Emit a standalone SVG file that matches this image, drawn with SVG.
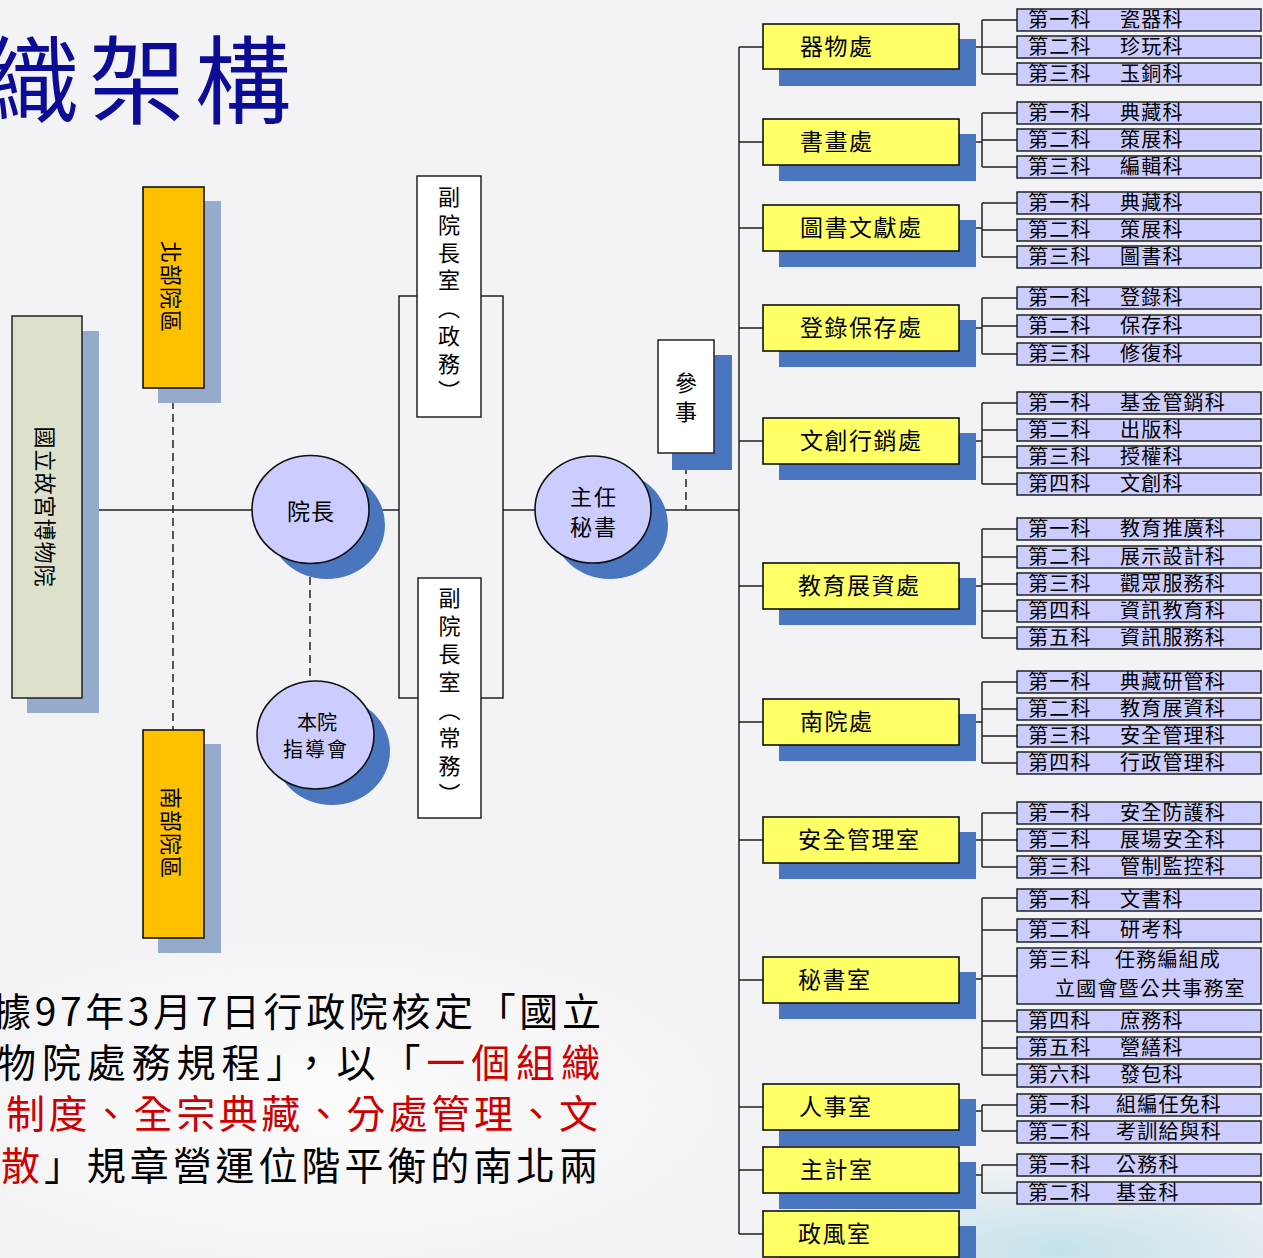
<svg xmlns="http://www.w3.org/2000/svg" width="1263" height="1258" viewBox="0 0 1263 1258">
<defs>
<style>
text{font-family:"Noto Sans CJK TC","Noto Sans CJK SC",sans-serif;fill:#000}
.ln{stroke:#222;stroke-width:1.5;fill:none}
.dash{stroke:#222;stroke-width:1.5;fill:none;stroke-dasharray:8 5}
.yb{fill:#ffff66;stroke:#111;stroke-width:1.6}
.bsh{fill:#4a76c0}
.gsh{fill:#95abcd}
.sb{fill:#ccccff;stroke:#222;stroke-width:1.5}
.wb{fill:#fff;stroke:#222;stroke-width:1.5}
.yt{font-size:23px;letter-spacing:1.5px}
.st{font-size:20px;letter-spacing:1.2px}
.vt{font-size:22px}
.ct{font-size:22px;text-anchor:middle}
.bt{font-size:39px}
.red{fill:#cc0000}
</style>
<radialGradient id="teal" cx="0.5" cy="0.5" r="0.5">
<stop offset="0" stop-color="#bfe0e8" stop-opacity="0.9"/>
<stop offset="1" stop-color="#bfe0e8" stop-opacity="0"/>
</radialGradient>
<radialGradient id="wash" cx="0.5" cy="0.5" r="0.5">
<stop offset="0" stop-color="#ffffff" stop-opacity="0.7"/>
<stop offset="1" stop-color="#ffffff" stop-opacity="0"/>
</radialGradient>
</defs>
<rect width="1263" height="1258" fill="#f3f3f5"/>
<ellipse cx="1060" cy="1250" rx="320" ry="90" fill="url(#teal)"/>
<ellipse cx="320" cy="1100" rx="420" ry="170" fill="url(#wash)"/>

<text x="-17" y="116" style="font-size:96px;fill:#0c0c96;letter-spacing:10px">織架構</text>

<g id="connectors">
<polyline class="ln" points="82,507 99,510 252,510"/>
<line class="ln" x1="369" y1="510" x2="399" y2="510"/>
<rect class="ln" x="399" y="296" width="104" height="402"/>
<line class="ln" x1="503" y1="510" x2="535" y2="510"/>
<line class="ln" x1="651" y1="510" x2="739" y2="510"/>
<line class="dash" x1="173" y1="388" x2="173" y2="730"/>
<line class="dash" x1="310" y1="564" x2="310" y2="682"/>
<line class="dash" x1="686" y1="453" x2="686" y2="510"/>
<line class="ln" x1="739" y1="47" x2="739" y2="1234"/>
<path class="ln" d="M739 47H763M739 142H763M739 228H763M739 328H763M739 441H763M739 586H763M739 722H763M739 840H763M739 980H763M739 1107H763M739 1170H763M739 1234H763"/>
<path class="ln" d="M959 47H982M982 20V74M982 20H1017M982 47H1017M982 74H1017"/>
<path class="ln" d="M959 142H982M982 113V167M982 113H1017M982 140H1017M982 167H1017"/>
<path class="ln" d="M959 228H982M982 203V257M982 203H1017M982 230H1017M982 257H1017"/>
<path class="ln" d="M959 328H982M982 298V354M982 298H1017M982 326H1017M982 354H1017"/>
<path class="ln" d="M959 441H982M982 403V484M982 403H1017M982 430H1017M982 457H1017M982 484H1017"/>
<path class="ln" d="M959 586H982M982 529V638M982 529H1017M982 557H1017M982 584H1017M982 611H1017M982 638H1017"/>
<path class="ln" d="M959 722H982M982 682V763M982 682H1017M982 709H1017M982 736H1017M982 763H1017"/>
<path class="ln" d="M959 840H982M982 813V867M982 813H1017M982 840H1017M982 867H1017"/>
<path class="ln" d="M959 979H982M982 898V1075M982 898H1017M982 930H1017M982 976H1017M982 1021H1017M982 1048H1017M982 1075H1017"/>
<path class="ln" d="M959 1111H982M982 1105V1131M982 1105H1017M982 1131H1017"/>
<path class="ln" d="M959 1175H982M982 1165V1193M982 1165H1017M982 1193H1017"/>
</g>

<g id="museum">
<rect class="gsh" x="27" y="331" width="72" height="382"/>
<rect x="12" y="316" width="70" height="382" fill="#dde0cb" stroke="#222" stroke-width="1.5"/>
<text class="vt" transform="translate(47 507) rotate(90)" text-anchor="middle" dominant-baseline="central" style="letter-spacing:1px">國立故宮博物院</text>
</g>
<g id="north">
<rect class="gsh" x="158" y="201" width="63" height="202"/>
<rect x="143" y="187" width="61" height="201" fill="#ffc000" stroke="#111" stroke-width="1.6"/>
<text class="vt" transform="translate(173 287) rotate(90)" text-anchor="middle" dominant-baseline="central" style="letter-spacing:1px">北部院區</text>
</g>
<g id="south">
<rect class="gsh" x="158" y="744" width="63" height="209"/>
<rect x="143" y="730" width="61" height="208" fill="#ffc000" stroke="#111" stroke-width="1.6"/>
<text class="vt" transform="translate(173 833) rotate(90)" text-anchor="middle" dominant-baseline="central" style="letter-spacing:1px">南部院區</text>
</g>
<g id="director">
<ellipse class="bsh" cx="327" cy="525" rx="58" ry="54"/>
<ellipse cx="310.5" cy="509.5" rx="58.5" ry="54" fill="#ccccff" stroke="#111" stroke-width="1.6"/>
<text class="ct" x="311" y="520" style="font-size:23px;letter-spacing:1px">院長</text>
</g>
<g id="council">
<ellipse class="bsh" cx="332" cy="751" rx="58" ry="54"/>
<ellipse cx="315.5" cy="735" rx="58.5" ry="54" fill="#ccccff" stroke="#111" stroke-width="1.6"/>
<text class="ct" x="317" y="730" style="font-size:20px">本院</text>
<text class="ct" x="316" y="757" style="font-size:20px;letter-spacing:2px">指導會</text>
</g>
<g id="chief-secretary">
<ellipse class="bsh" cx="610" cy="525" rx="58" ry="54"/>
<ellipse cx="593" cy="509.5" rx="58" ry="53.5" fill="#ccccff" stroke="#111" stroke-width="1.6"/>
<text class="ct" x="594" y="505" style="letter-spacing:2px">主任</text>
<text class="ct" x="594" y="535" style="letter-spacing:2px">秘書</text>
</g>
<g id="deputy-political">
<rect class="wb" x="417" y="176" width="64" height="241"/>
<text class="vt" x="449" y="186" style="writing-mode:vertical-rl;letter-spacing:5.7px">副院長室（政務）</text>
</g>
<g id="deputy-standing">
<rect class="wb" x="418" y="578" width="63" height="240"/>
<text class="vt" x="449.5" y="587" style="writing-mode:vertical-rl;letter-spacing:6px">副院長室（常務）</text>
</g>
<g id="counselor">
<rect class="bsh" x="672" y="355" width="60" height="115"/>
<rect class="wb" x="658" y="340" width="56" height="113"/>
<text class="ct" x="686" y="391">參</text>
<text class="ct" x="686" y="420">事</text>
</g>

<g id="dept-antiquities">
<rect class="bsh" x="779" y="39" width="197" height="47"/>
<rect class="yb" x="763" y="24" width="196" height="45"/>
<text class="yt" x="800" y="55">器物處</text>
<rect class="sb" x="1017" y="9" width="244" height="22"/><text class="st" y="27"><tspan x="1028">第一科</tspan><tspan x="1120">瓷器科</tspan></text>
<rect class="sb" x="1017" y="36" width="244" height="22"/><text class="st" y="54"><tspan x="1028">第二科</tspan><tspan x="1120">珍玩科</tspan></text>
<rect class="sb" x="1017" y="63" width="244" height="22"/><text class="st" y="81"><tspan x="1028">第三科</tspan><tspan x="1120">玉銅科</tspan></text>
</g>
<g id="dept-painting">
<rect class="bsh" x="779" y="134" width="197" height="47"/>
<rect class="yb" x="763" y="119" width="196" height="46"/>
<text class="yt" x="800" y="150">書畫處</text>
<rect class="sb" x="1017" y="102" width="244" height="22"/><text class="st" y="120"><tspan x="1028">第一科</tspan><tspan x="1120">典藏科</tspan></text>
<rect class="sb" x="1017" y="129" width="244" height="22"/><text class="st" y="147"><tspan x="1028">第二科</tspan><tspan x="1120">策展科</tspan></text>
<rect class="sb" x="1017" y="156" width="244" height="22"/><text class="st" y="174"><tspan x="1028">第三科</tspan><tspan x="1120">編輯科</tspan></text>
</g>
<g id="dept-library">
<rect class="bsh" x="779" y="220" width="197" height="47"/>
<rect class="yb" x="763" y="205" width="196" height="46"/>
<text class="yt" x="800" y="236">圖書文獻處</text>
<rect class="sb" x="1017" y="192" width="244" height="22"/><text class="st" y="210"><tspan x="1028">第一科</tspan><tspan x="1120">典藏科</tspan></text>
<rect class="sb" x="1017" y="219" width="244" height="22"/><text class="st" y="237"><tspan x="1028">第二科</tspan><tspan x="1120">策展科</tspan></text>
<rect class="sb" x="1017" y="246" width="244" height="22"/><text class="st" y="264"><tspan x="1028">第三科</tspan><tspan x="1120">圖書科</tspan></text>
</g>
<g id="dept-registration">
<rect class="bsh" x="779" y="320" width="197" height="47"/>
<rect class="yb" x="763" y="305" width="196" height="46"/>
<text class="yt" x="800" y="336">登錄保存處</text>
<rect class="sb" x="1017" y="287" width="244" height="22"/><text class="st" y="305"><tspan x="1028">第一科</tspan><tspan x="1120">登錄科</tspan></text>
<rect class="sb" x="1017" y="315" width="244" height="22"/><text class="st" y="333"><tspan x="1028">第二科</tspan><tspan x="1120">保存科</tspan></text>
<rect class="sb" x="1017" y="343" width="244" height="22"/><text class="st" y="361"><tspan x="1028">第三科</tspan><tspan x="1120">修復科</tspan></text>
</g>
<g id="dept-creative">
<rect class="bsh" x="779" y="433" width="197" height="47"/>
<rect class="yb" x="763" y="418" width="196" height="46"/>
<text class="yt" x="800" y="449">文創行銷處</text>
<rect class="sb" x="1017" y="392" width="244" height="22"/><text class="st" y="410"><tspan x="1028">第一科</tspan><tspan x="1120">基金管銷科</tspan></text>
<rect class="sb" x="1017" y="419" width="244" height="22"/><text class="st" y="437"><tspan x="1028">第二科</tspan><tspan x="1120">出版科</tspan></text>
<rect class="sb" x="1017" y="446" width="244" height="22"/><text class="st" y="464"><tspan x="1028">第三科</tspan><tspan x="1120">授權科</tspan></text>
<rect class="sb" x="1017" y="473" width="244" height="22"/><text class="st" y="491"><tspan x="1028">第四科</tspan><tspan x="1120">文創科</tspan></text>
</g>
<g id="dept-education">
<rect class="bsh" x="779" y="578" width="197" height="47"/>
<rect class="yb" x="763" y="563" width="196" height="46"/>
<text class="yt" x="798" y="594">教育展資處</text>
<rect class="sb" x="1017" y="518" width="244" height="22"/><text class="st" y="536"><tspan x="1028">第一科</tspan><tspan x="1120">教育推廣科</tspan></text>
<rect class="sb" x="1017" y="546" width="244" height="22"/><text class="st" y="564"><tspan x="1028">第二科</tspan><tspan x="1120">展示設計科</tspan></text>
<rect class="sb" x="1017" y="573" width="244" height="22"/><text class="st" y="591"><tspan x="1028">第三科</tspan><tspan x="1120">觀眾服務科</tspan></text>
<rect class="sb" x="1017" y="600" width="244" height="22"/><text class="st" y="618"><tspan x="1028">第四科</tspan><tspan x="1120">資訊教育科</tspan></text>
<rect class="sb" x="1017" y="627" width="244" height="22"/><text class="st" y="645"><tspan x="1028">第五科</tspan><tspan x="1120">資訊服務科</tspan></text>
</g>
<g id="dept-southern">
<rect class="bsh" x="779" y="714" width="197" height="47"/>
<rect class="yb" x="763" y="699" width="196" height="46"/>
<text class="yt" x="800" y="730">南院處</text>
<rect class="sb" x="1017" y="671" width="244" height="22"/><text class="st" y="689"><tspan x="1028">第一科</tspan><tspan x="1120">典藏研管科</tspan></text>
<rect class="sb" x="1017" y="698" width="244" height="22"/><text class="st" y="716"><tspan x="1028">第二科</tspan><tspan x="1120">教育展資科</tspan></text>
<rect class="sb" x="1017" y="725" width="244" height="22"/><text class="st" y="743"><tspan x="1028">第三科</tspan><tspan x="1120">安全管理科</tspan></text>
<rect class="sb" x="1017" y="752" width="244" height="22"/><text class="st" y="770"><tspan x="1028">第四科</tspan><tspan x="1120">行政管理科</tspan></text>
</g>
<g id="dept-security">
<rect class="bsh" x="779" y="832" width="197" height="47"/>
<rect class="yb" x="763" y="817" width="196" height="46"/>
<text class="yt" x="798" y="848">安全管理室</text>
<rect class="sb" x="1017" y="802" width="244" height="22"/><text class="st" y="820"><tspan x="1028">第一科</tspan><tspan x="1120">安全防護科</tspan></text>
<rect class="sb" x="1017" y="829" width="244" height="22"/><text class="st" y="847"><tspan x="1028">第二科</tspan><tspan x="1120">展場安全科</tspan></text>
<rect class="sb" x="1017" y="856" width="244" height="22"/><text class="st" y="874"><tspan x="1028">第三科</tspan><tspan x="1120">管制監控科</tspan></text>
</g>
<g id="dept-secretariat">
<rect class="bsh" x="779" y="972" width="197" height="47"/>
<rect class="yb" x="763" y="957" width="196" height="46"/>
<text class="yt" x="798" y="988">秘書室</text>
<rect class="sb" x="1017" y="889" width="244" height="22"/><text class="st" y="907"><tspan x="1028">第一科</tspan><tspan x="1120">文書科</tspan></text>
<rect class="sb" x="1017" y="919" width="244" height="23"/><text class="st" y="937"><tspan x="1028">第二科</tspan><tspan x="1120">研考科</tspan></text>
<rect class="sb" x="1017" y="948" width="244" height="56"/><text class="st" y="967"><tspan x="1028">第三科</tspan><tspan x="1115">任務編組成</tspan></text><text class="st" x="1055" y="996">立國會暨公共事務室</text>
<rect class="sb" x="1017" y="1010" width="244" height="22"/><text class="st" y="1028"><tspan x="1028">第四科</tspan><tspan x="1120">庶務科</tspan></text>
<rect class="sb" x="1017" y="1037" width="244" height="22"/><text class="st" y="1055"><tspan x="1028">第五科</tspan><tspan x="1120">營繕科</tspan></text>
<rect class="sb" x="1017" y="1064" width="244" height="23"/><text class="st" y="1082"><tspan x="1028">第六科</tspan><tspan x="1120">發包科</tspan></text>
</g>
<g id="dept-personnel">
<rect class="bsh" x="779" y="1099" width="197" height="47"/>
<rect class="yb" x="763" y="1084" width="196" height="46"/>
<text class="yt" x="799" y="1115">人事室</text>
<rect class="sb" x="1017" y="1094" width="244" height="22"/><text class="st" y="1112"><tspan x="1028">第一科</tspan><tspan x="1116">組編任免科</tspan></text>
<rect class="sb" x="1017" y="1121" width="244" height="22"/><text class="st" y="1139"><tspan x="1028">第二科</tspan><tspan x="1116">考訓給與科</tspan></text>
</g>
<g id="dept-accounting">
<rect class="bsh" x="779" y="1162" width="197" height="47"/>
<rect class="yb" x="763" y="1147" width="196" height="46"/>
<text class="yt" x="800" y="1178">主計室</text>
<rect class="sb" x="1017" y="1154" width="244" height="22"/><text class="st" y="1172"><tspan x="1028">第一科</tspan><tspan x="1116">公務科</tspan></text>
<rect class="sb" x="1017" y="1182" width="244" height="22"/><text class="st" y="1200"><tspan x="1028">第二科</tspan><tspan x="1116">基金科</tspan></text>
</g>
<g id="dept-ethics">
<rect class="bsh" x="779" y="1226" width="197" height="47"/>
<rect class="yb" x="763" y="1211" width="196" height="46"/>
<text class="yt" x="798" y="1242">政風室</text>
</g>

<g id="note">
<text class="bt" x="-8" y="1026" textLength="609" lengthAdjust="spacing">據97年3月7日行政院核定「國立</text>
<text class="bt" x="-3" y="1077" textLength="603" lengthAdjust="spacing">物院處務規程」，以「<tspan class="red">一個組織</tspan></text>
<text class="bt red" x="6" y="1128" textLength="592" lengthAdjust="spacing">制度、全宗典藏、分處管理、文</text>
<text class="bt" x="1" y="1180" textLength="597" lengthAdjust="spacing"><tspan class="red">散</tspan>」規章營運位階平衡的南北兩</text>
</g>
</svg>
